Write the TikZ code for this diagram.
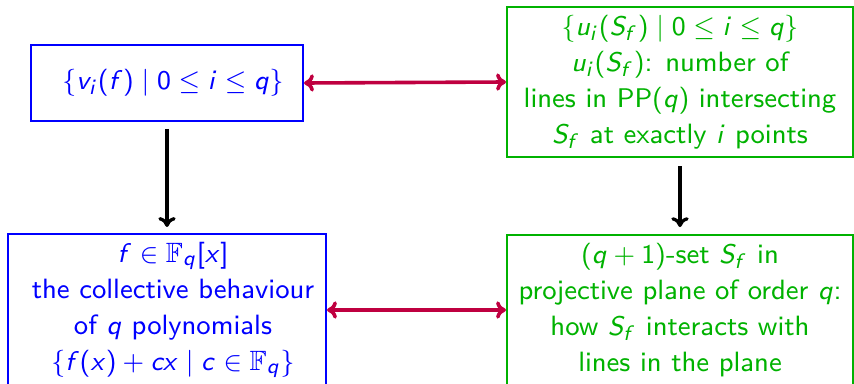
\documentclass[tikz,border=0pt]{standalone}
\usepackage{amssymb}
\usetikzlibrary{arrows.meta}
\DeclareSymbolFont{operators}{OT1}{cmss}{m}{n}
\DeclareSymbolFont{letters}{OT1}{cmss}{m}{sl}
\definecolor{bxblue}{rgb}{0,0,1}
\definecolor{bxgreen}{rgb}{0,0.7,0}
\definecolor{linkred}{rgb}{0.75,0,0.25}
\tikzset{
  boxbase/.style={draw, rectangle, inner sep=0pt, line width=0.7pt, align=center,
    font=\fontsize{9.3}{12}\selectfont\sffamily},
  bluebox/.style={boxbase, draw=bxblue, text=bxblue},
  greenbox/.style={boxbase, draw=bxgreen, text=bxgreen},
  duallink/.style={linkred, line width=1.2pt, {To[length=3.3pt,width=5.8pt]}-{To[length=3.3pt,width=5.8pt]}},
  downlink/.style={black, line width=1.1pt, -{To[length=3.3pt,width=5.8pt]}}
}
\begin{document}
\begin{tikzpicture}[x=0.33333pt, y=-0.33333pt]
\useasboundingbox (0,0) rectangle (854,384);
\clip (0,0) rectangle (854,384);
\node[bluebox, minimum width=90.67pt, minimum height=25.33pt] (A) at (167,83)
  {\hspace*{4pt}$\{v_i(f)\mid 0\le i\le q\}$};
\node[greenbox, minimum width=115.33pt, minimum height=50pt] (B) at (680,82)
  {$\{u_i(S_f)\mid 0\le i\le q\}$\\
   $u_i(S_f)$: number of\\
   lines in $\mathrm{PP}(q)$ intersecting\\
   $S_f$ at exactly $i$ points};
\node[bluebox, minimum width=106pt, minimum height=50.67pt] (C) at (167,310)
  {\hspace*{4pt}$f\in\mathbb{F}_q[x]$\\
   \hspace*{4pt}the collective behaviour\\
   \hspace*{4pt}of $q$ polynomials\\
   \hspace*{4pt}$\{f(x)+cx\mid c\in\mathbb{F}_q\}$};
\node[greenbox, minimum width=115.33pt, minimum height=50pt] (D) at (680,310)
  {$(q+1)$-set $S_f$ in\\
   projective plane of order $q$:\\
   how $S_f$ interacts with\\
   lines in the plane};
\draw[duallink] (A.east) -- (B.west);
\draw[duallink] (C.east) -- (D.west);
\draw[downlink, shorten <=2.3pt, shorten >=2pt] (A.south) -- (C.north);
\draw[downlink, shorten <=2.7pt, shorten >=2.3pt] (B.south) -- (D.north);
\end{tikzpicture}
\end{document}
